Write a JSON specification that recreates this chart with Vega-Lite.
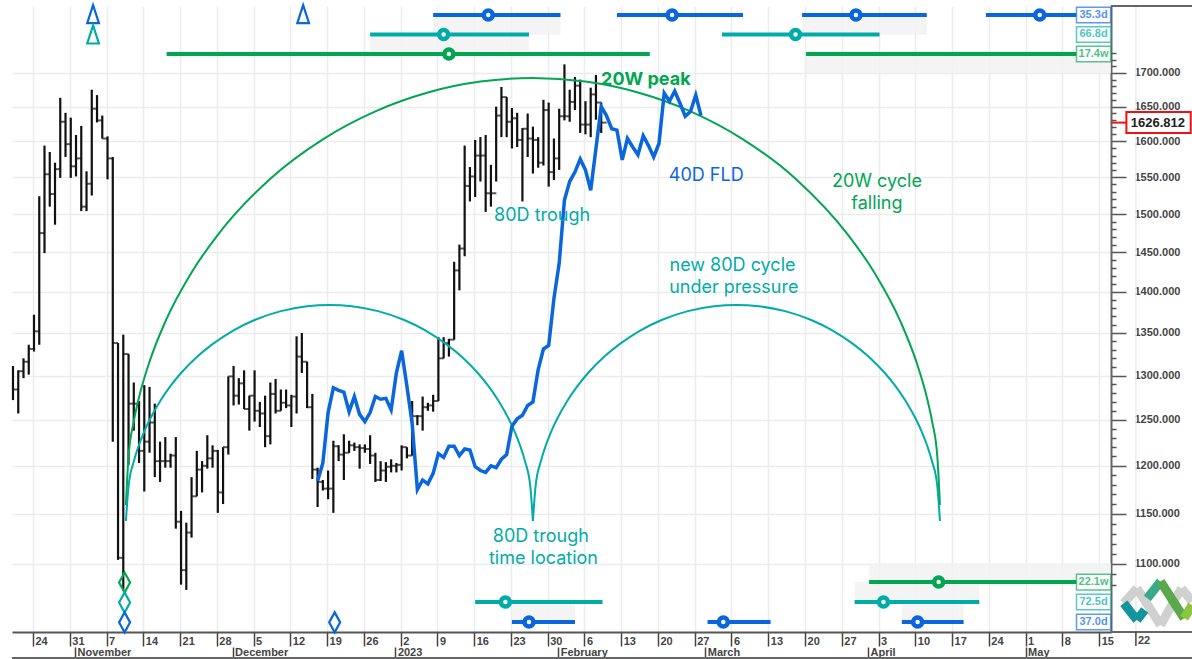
{
"$schema":"https://vega.github.io/schema/vega-lite/v6.json",
"width":1099,"height":626,"autosize":{"type":"none"},
"padding":{"left":12,"top":6,"right":81,"bottom":27},
"background":"white",
"config":{"view":{"stroke":null},"axis":{"title":null}},
"datasets":{
"bars":[
{"d":"2022-10-20","p":1311,"p2":1272,"c":1284},{"d":"2022-10-21","p":1306,"p2":1257,"c":1305},{"d":"2022-10-22","p":1320,"p2":1297,"c":1316},{"d":"2022-10-23","p":1336,"p2":1301,"c":1331},{"d":"2022-10-24","p":1372,"p2":1328,"c":1352},{"d":"2022-10-25","p":1524,"p2":1336,"c":1475},{"d":"2022-10-26","p":1594,"p2":1449,"c":1554},{"d":"2022-10-27","p":1585,"p2":1510,"c":1527},{"d":"2022-10-28","p":1570,"p2":1486,"c":1561},{"d":"2022-10-29","p":1663,"p2":1549,"c":1628},{"d":"2022-10-30","p":1641,"p2":1578,"c":1596},{"d":"2022-10-31","p":1634,"p2":1549,"c":1565},
{"d":"2022-11-01","p":1609,"p2":1551,"c":1576},{"d":"2022-11-02","p":1622,"p2":1504,"c":1510},{"d":"2022-11-03","p":1558,"p2":1504,"c":1541},{"d":"2022-11-04","p":1675,"p2":1525,"c":1647},{"d":"2022-11-05","p":1667,"p2":1627,"c":1630},{"d":"2022-11-06","p":1637,"p2":1604,"c":1604},{"d":"2022-11-07","p":1607,"p2":1547,"c":1576},{"d":"2022-11-08","p":1578,"p2":1226,"c":1338},{"d":"2022-11-09","p":1338,"p2":1104,"c":1106},{"d":"2022-11-10","p":1348,"p2":1075,"c":1325},{"d":"2022-11-11","p":1325,"p2":1201,"c":1268},{"d":"2022-11-12","p":1292,"p2":1238,"c":1268},{"d":"2022-11-13","p":1271,"p2":1203,"c":1216},{"d":"2022-11-14","p":1289,"p2":1173,"c":1226},{"d":"2022-11-15","p":1287,"p2":1214,"c":1247},{"d":"2022-11-16","p":1268,"p2":1188,"c":1205},{"d":"2022-11-17","p":1226,"p2":1183,"c":1205},{"d":"2022-11-18","p":1231,"p2":1198,"c":1205},{"d":"2022-11-19","p":1213,"p2":1198,"c":1211},{"d":"2022-11-20","p":1231,"p2":1135,"c":1142},{"d":"2022-11-21","p":1153,"p2":1080,"c":1094},{"d":"2022-11-22","p":1141,"p2":1075,"c":1131},{"d":"2022-11-23","p":1188,"p2":1126,"c":1168},{"d":"2022-11-24","p":1216,"p2":1168,"c":1196},{"d":"2022-11-25","p":1205,"p2":1172,"c":1200},{"d":"2022-11-26","p":1233,"p2":1197,"c":1208},{"d":"2022-11-27","p":1222,"p2":1198,"c":1216},{"d":"2022-11-28","p":1217,"p2":1151,"c":1172},{"d":"2022-11-29","p":1220,"p2":1160,"c":1220},{"d":"2022-11-30","p":1299,"p2":1212,"c":1299},
{"d":"2022-12-01","p":1311,"p2":1266,"c":1277},{"d":"2022-12-02","p":1297,"p2":1267,"c":1291},{"d":"2022-12-03","p":1306,"p2":1262,"c":1262},{"d":"2022-12-04","p":1277,"p2":1238,"c":1277},{"d":"2022-12-05","p":1306,"p2":1248,"c":1260},{"d":"2022-12-06","p":1270,"p2":1242,"c":1257},{"d":"2022-12-07","p":1277,"p2":1220,"c":1232},{"d":"2022-12-08","p":1292,"p2":1223,"c":1279},{"d":"2022-12-09","p":1296,"p2":1257,"c":1260},{"d":"2022-12-10","p":1284,"p2":1260,"c":1269},{"d":"2022-12-11","p":1284,"p2":1263,"c":1266},{"d":"2022-12-12","p":1278,"p2":1242,"c":1276},{"d":"2022-12-13","p":1346,"p2":1257,"c":1322},{"d":"2022-12-14","p":1350,"p2":1303,"c":1316},{"d":"2022-12-15","p":1316,"p2":1263,"c":1264},{"d":"2022-12-16","p":1279,"p2":1186,"c":1196},{"d":"2022-12-17","p":1198,"p2":1157,"c":1183},{"d":"2022-12-18","p":1185,"p2":1174,"c":1176},{"d":"2022-12-19","p":1195,"p2":1165,"c":1176},{"d":"2022-12-20","p":1227,"p2":1151,"c":1221},{"d":"2022-12-21","p":1222,"p2":1205,"c":1212},{"d":"2022-12-22","p":1234,"p2":1185,"c":1214},{"d":"2022-12-23","p":1227,"p2":1214,"c":1222},{"d":"2022-12-24","p":1225,"p2":1216,"c":1220},{"d":"2022-12-25","p":1223,"p2":1197,"c":1219},{"d":"2022-12-26","p":1223,"p2":1214,"c":1218},{"d":"2022-12-27","p":1233,"p2":1202,"c":1211},{"d":"2022-12-28","p":1214,"p2":1183,"c":1185},{"d":"2022-12-29","p":1205,"p2":1184,"c":1195},{"d":"2022-12-30","p":1204,"p2":1183,"c":1199},{"d":"2022-12-31","p":1207,"p2":1193,"c":1200},
{"d":"2023-01-01","p":1203,"p2":1193,"c":1201},{"d":"2023-01-02","p":1222,"p2":1195,"c":1220},{"d":"2023-01-03","p":1220,"p2":1208,"c":1211},{"d":"2023-01-04","p":1271,"p2":1211,"c":1254},{"d":"2023-01-05","p":1255,"p2":1244,"c":1254},{"d":"2023-01-06","p":1276,"p2":1238,"c":1264},{"d":"2023-01-07","p":1269,"p2":1260,"c":1266},{"d":"2023-01-08","p":1278,"p2":1259,"c":1271},{"d":"2023-01-09","p":1345,"p2":1271,"c":1320},{"d":"2023-01-10","p":1345,"p2":1320,"c":1338},{"d":"2023-01-11","p":1343,"p2":1322,"c":1342},{"d":"2023-01-12","p":1438,"p2":1342,"c":1427},{"d":"2023-01-13","p":1460,"p2":1402,"c":1455},{"d":"2023-01-14","p":1594,"p2":1445,"c":1538},{"d":"2023-01-15","p":1564,"p2":1517,"c":1551},{"d":"2023-01-16","p":1602,"p2":1523,"c":1580},{"d":"2023-01-17","p":1606,"p2":1544,"c":1580},{"d":"2023-01-18","p":1609,"p2":1503,"c":1528},{"d":"2023-01-19","p":1567,"p2":1510,"c":1528},{"d":"2023-01-20","p":1650,"p2":1544,"c":1637},{"d":"2023-01-21","p":1679,"p2":1606,"c":1664},{"d":"2023-01-22","p":1664,"p2":1606,"c":1628},{"d":"2023-01-23","p":1648,"p2":1590,"c":1633},{"d":"2023-01-24","p":1641,"p2":1592,"c":1602},{"d":"2023-01-25","p":1619,"p2":1517,"c":1618},{"d":"2023-01-26","p":1640,"p2":1578,"c":1604},{"d":"2023-01-27","p":1621,"p2":1555,"c":1602},{"d":"2023-01-28","p":1606,"p2":1563,"c":1570},{"d":"2023-01-29","p":1660,"p2":1566,"c":1645},{"d":"2023-01-30","p":1656,"p2":1537,"c":1557},{"d":"2023-01-31","p":1604,"p2":1546,"c":1576},
{"d":"2023-02-01","p":1647,"p2":1560,"c":1636},{"d":"2023-02-02","p":1713,"p2":1630,"c":1636},{"d":"2023-02-03","p":1675,"p2":1628,"c":1657},{"d":"2023-02-04","p":1694,"p2":1645,"c":1681},{"d":"2023-02-05","p":1690,"p2":1612,"c":1624},{"d":"2023-02-06","p":1658,"p2":1610,"c":1624},{"d":"2023-02-07","p":1678,"p2":1606,"c":1668},{"d":"2023-02-08","p":1697,"p2":1631,"c":1656},{"d":"2023-02-09","p":1656,"p2":1612,"c":1626.812}
],
"fld":[
{"d":"2022-12-17","p":1184},{"d":"2022-12-18","p":1203},{"d":"2022-12-19","p":1258},{"d":"2022-12-20","p":1286},{"d":"2022-12-21","p":1283},{"d":"2022-12-22","p":1281},{"d":"2022-12-23","p":1259},{"d":"2022-12-24","p":1276},{"d":"2022-12-25","p":1256},{"d":"2022-12-26","p":1248},{"d":"2022-12-27","p":1258},{"d":"2022-12-28","p":1276},{"d":"2022-12-29","p":1273},{"d":"2022-12-30","p":1274},{"d":"2022-12-31","p":1261},{"d":"2023-01-01","p":1303},{"d":"2023-01-02","p":1329},{"d":"2023-01-03","p":1288},{"d":"2023-01-04","p":1246},{"d":"2023-01-05","p":1175},{"d":"2023-01-06","p":1185},{"d":"2023-01-07","p":1181},{"d":"2023-01-08","p":1192},{"d":"2023-01-09","p":1213},{"d":"2023-01-10","p":1209},{"d":"2023-01-11","p":1221},{"d":"2023-01-12","p":1221},{"d":"2023-01-13","p":1211},{"d":"2023-01-14","p":1218},{"d":"2023-01-15","p":1217},{"d":"2023-01-16","p":1199},{"d":"2023-01-17","p":1195},{"d":"2023-01-18","p":1193},{"d":"2023-01-19","p":1200},{"d":"2023-01-20","p":1198},{"d":"2023-01-21","p":1207},{"d":"2023-01-22","p":1212},{"d":"2023-01-23","p":1243},{"d":"2023-01-24","p":1251},{"d":"2023-01-25","p":1255},{"d":"2023-01-26","p":1266},{"d":"2023-01-27","p":1270},{"d":"2023-01-28","p":1307},{"d":"2023-01-29","p":1331},{"d":"2023-01-30","p":1335},{"d":"2023-01-31","p":1392},{"d":"2023-02-01","p":1436},{"d":"2023-02-02","p":1519},{"d":"2023-02-03","p":1544},{"d":"2023-02-04","p":1557},{"d":"2023-02-05","p":1575},{"d":"2023-02-06","p":1560},{"d":"2023-02-07","p":1532},{"d":"2023-02-08","p":1590},{"d":"2023-02-09","p":1650},{"d":"2023-02-10","p":1637},{"d":"2023-02-11","p":1618},{"d":"2023-02-12","p":1616},{"d":"2023-02-13","p":1574},{"d":"2023-02-14","p":1604},{"d":"2023-02-15","p":1592},{"d":"2023-02-16","p":1581},{"d":"2023-02-17","p":1608},{"d":"2023-02-18","p":1594},{"d":"2023-02-19","p":1578},{"d":"2023-02-20","p":1597},{"d":"2023-02-21","p":1670},{"d":"2023-02-22","p":1658},{"d":"2023-02-23","p":1673},{"d":"2023-02-24","p":1655},{"d":"2023-02-25","p":1636},{"d":"2023-02-26","p":1643},{"d":"2023-02-27","p":1667},{"d":"2023-02-28","p":1637}
],
"arcs":[
{"a":"20W","k":"20W","d":"2022-11-10T12:00:00Z","p":1159},{"a":"20W","k":"20W","d":"2022-11-11","p":1209.9},{"a":"20W","k":"20W","d":"2022-11-12","p":1248.3},{"a":"20W","k":"20W","d":"2022-11-13","p":1275.2},{"a":"20W","k":"20W","d":"2022-11-15","p":1316.1},{"a":"20W","k":"20W","d":"2022-11-18","p":1363.6},{"a":"20W","k":"20W","d":"2022-11-23","p":1424.4},{"a":"20W","k":"20W","d":"2022-11-28","p":1472.7},{"a":"20W","k":"20W","d":"2022-12-08","p":1547.9},{"a":"20W","k":"20W","d":"2022-12-18","p":1602.9},{"a":"20W","k":"20W","d":"2022-12-28","p":1643.2},{"a":"20W","k":"20W","d":"2023-01-07","p":1670.9},{"a":"20W","k":"20W","d":"2023-01-17","p":1687.1},{"a":"20W","k":"20W","d":"2023-01-27","p":1692.5},{"a":"20W","k":"20W","d":"2023-02-06","p":1687.1},{"a":"20W","k":"20W","d":"2023-02-16","p":1670.9},{"a":"20W","k":"20W","d":"2023-02-26","p":1643.2},{"a":"20W","k":"20W","d":"2023-03-08","p":1602.9},{"a":"20W","k":"20W","d":"2023-03-18","p":1547.9},{"a":"20W","k":"20W","d":"2023-03-28","p":1472.7},{"a":"20W","k":"20W","d":"2023-04-02","p":1424.4},{"a":"20W","k":"20W","d":"2023-04-07","p":1363.6},{"a":"20W","k":"20W","d":"2023-04-10","p":1316.1},{"a":"20W","k":"20W","d":"2023-04-12","p":1275.2},{"a":"20W","k":"20W","d":"2023-04-13","p":1248.3},{"a":"20W","k":"20W","d":"2023-04-14","p":1209.9},{"a":"20W","k":"20W","d":"2023-04-14T12:00:00Z","p":1159},
{"a":"80L","k":"80D","d":"2022-11-10T12:00:00Z","p":1142.7},{"a":"80L","k":"80D","d":"2022-11-11","p":1178.4},{"a":"80L","k":"80D","d":"2022-11-12","p":1204.7},{"a":"80L","k":"80D","d":"2022-11-13","p":1222.6},{"a":"80L","k":"80D","d":"2022-11-14","p":1237.3},{"a":"80L","k":"80D","d":"2022-11-15","p":1249.7},{"a":"80L","k":"80D","d":"2022-11-17","p":1270.7},{"a":"80L","k":"80D","d":"2022-11-19","p":1288.1},{"a":"80L","k":"80D","d":"2022-11-21","p":1302.9},{"a":"80L","k":"80D","d":"2022-11-24","p":1321.5},{"a":"80L","k":"80D","d":"2022-11-27","p":1336.7},{"a":"80L","k":"80D","d":"2022-12-01","p":1353.2},{"a":"80L","k":"80D","d":"2022-12-05","p":1365.6},{"a":"80L","k":"80D","d":"2022-12-10","p":1376.4},{"a":"80L","k":"80D","d":"2022-12-15","p":1382.4},{"a":"80L","k":"80D","d":"2022-12-19T06:00:00Z","p":1384},{"a":"80L","k":"80D","d":"2022-12-23T12:00:00Z","p":1382.4},{"a":"80L","k":"80D","d":"2022-12-28T12:00:00Z","p":1376.4},{"a":"80L","k":"80D","d":"2023-01-02T12:00:00Z","p":1365.6},{"a":"80L","k":"80D","d":"2023-01-06T12:00:00Z","p":1353.2},{"a":"80L","k":"80D","d":"2023-01-10T12:00:00Z","p":1336.7},{"a":"80L","k":"80D","d":"2023-01-13T12:00:00Z","p":1321.5},{"a":"80L","k":"80D","d":"2023-01-16T12:00:00Z","p":1302.9},{"a":"80L","k":"80D","d":"2023-01-18T12:00:00Z","p":1288.1},{"a":"80L","k":"80D","d":"2023-01-20T12:00:00Z","p":1270.7},{"a":"80L","k":"80D","d":"2023-01-22T12:00:00Z","p":1249.7},{"a":"80L","k":"80D","d":"2023-01-23T12:00:00Z","p":1237.3},{"a":"80L","k":"80D","d":"2023-01-24T12:00:00Z","p":1222.6},{"a":"80L","k":"80D","d":"2023-01-25T12:00:00Z","p":1204.7},{"a":"80L","k":"80D","d":"2023-01-26T12:00:00Z","p":1178.4},{"a":"80L","k":"80D","d":"2023-01-27","p":1142.7},
{"a":"80R","k":"80D","d":"2023-01-27","p":1142.7},{"a":"80R","k":"80D","d":"2023-01-27T12:00:00Z","p":1178.4},{"a":"80R","k":"80D","d":"2023-01-28T12:00:00Z","p":1204.7},{"a":"80R","k":"80D","d":"2023-01-29T12:00:00Z","p":1222.6},{"a":"80R","k":"80D","d":"2023-01-30T12:00:00Z","p":1237.3},{"a":"80R","k":"80D","d":"2023-01-31T12:00:00Z","p":1249.7},{"a":"80R","k":"80D","d":"2023-02-02T12:00:00Z","p":1270.7},{"a":"80R","k":"80D","d":"2023-02-04T12:00:00Z","p":1288.1},{"a":"80R","k":"80D","d":"2023-02-06T12:00:00Z","p":1302.9},{"a":"80R","k":"80D","d":"2023-02-09T12:00:00Z","p":1321.5},{"a":"80R","k":"80D","d":"2023-02-12T12:00:00Z","p":1336.7},{"a":"80R","k":"80D","d":"2023-02-16T12:00:00Z","p":1353.2},{"a":"80R","k":"80D","d":"2023-02-20T12:00:00Z","p":1365.6},{"a":"80R","k":"80D","d":"2023-02-25T12:00:00Z","p":1376.4},{"a":"80R","k":"80D","d":"2023-03-02T12:00:00Z","p":1382.4},{"a":"80R","k":"80D","d":"2023-03-06T18:00:00Z","p":1384},{"a":"80R","k":"80D","d":"2023-03-11","p":1382.4},{"a":"80R","k":"80D","d":"2023-03-16","p":1376.4},{"a":"80R","k":"80D","d":"2023-03-21","p":1365.6},{"a":"80R","k":"80D","d":"2023-03-25","p":1353.2},{"a":"80R","k":"80D","d":"2023-03-29","p":1336.7},{"a":"80R","k":"80D","d":"2023-04-01","p":1321.5},{"a":"80R","k":"80D","d":"2023-04-04","p":1302.9},{"a":"80R","k":"80D","d":"2023-04-06","p":1288.1},{"a":"80R","k":"80D","d":"2023-04-08","p":1270.7},{"a":"80R","k":"80D","d":"2023-04-10","p":1249.7},{"a":"80R","k":"80D","d":"2023-04-11","p":1237.3},{"a":"80R","k":"80D","d":"2023-04-12","p":1222.6},{"a":"80R","k":"80D","d":"2023-04-13","p":1204.7},{"a":"80R","k":"80D","d":"2023-04-14","p":1178.4},{"a":"80R","k":"80D","d":"2023-04-14T12:00:00Z","p":1142.7}
],
"bands":[
{"d":"2023-01-08","d2":"2023-02-01T06:00:00Z","p":1789.7,"p2":1759},
{"d":"2023-03-19T06:00:00Z","d2":"2023-04-12","p":1789.7,"p2":1759},
{"d":"2022-12-27","d2":"2023-01-26T06:00:00Z","p":1759,"p2":1732},
{"d":"2023-03-20","d2":"2023-05-17T01:00:00Z","p":1728.9,"p2":1700},
{"d":"2023-04-01","d2":"2023-05-17T01:00:00Z","p":1100.6,"p2":1082.5},
{"d":"2023-03-29T06:00:00Z","d2":"2023-04-22","p":1082.5,"p2":1063.5},
{"d":"2023-04-07T06:00:00Z","d2":"2023-04-19","p":1063.5,"p2":1044.8},
{"d":"2023-01-23","d2":"2023-02-04","p":1063.5,"p2":1044.8}
],
"segs":[
{"k":"40D","d":"2023-01-08","d2":"2023-02-01T06:00:00Z","m":"2023-01-18T12:00:00Z","p":1789.7},
{"k":"40D","d":"2023-02-12","d2":"2023-03-08","m":"2023-02-22T12:00:00Z","p":1789.7},
{"k":"40D","d":"2023-03-19T06:00:00Z","d2":"2023-04-12","m":"2023-03-29T12:00:00Z","p":1789.7},
{"k":"40D","d":"2023-04-23T06:00:00Z","d2":"2023-05-10T12:00:00Z","m":"2023-05-03T12:00:00Z","p":1789.7},
{"k":"80D","d":"2022-12-27","d2":"2023-01-26T06:00:00Z","m":"2023-01-10","p":1759},
{"k":"80D","d":"2023-03-04","d2":"2023-04-03","m":"2023-03-18","p":1759},
{"k":"20W","d":"2022-11-18T06:00:00Z","d2":"2023-02-18T06:00:00Z","m":"2023-01-11","p":1728.9},
{"k":"20W","d":"2023-03-20","d2":"2023-05-10T12:00:00Z","p":1728.9},
{"k":"20W","d":"2023-04-01","d2":"2023-05-10T12:00:00Z","m":"2023-04-14T06:00:00Z","p":1082.5},
{"k":"80D","d":"2023-03-29T06:00:00Z","d2":"2023-04-22","m":"2023-04-03T18:00:00Z","p":1063.5},
{"k":"40D","d":"2023-04-07T06:00:00Z","d2":"2023-04-19","m":"2023-04-10T06:00:00Z","p":1044.8},
{"k":"80D","d":"2023-01-16","d2":"2023-02-09T06:00:00Z","m":"2023-01-21T18:00:00Z","p":1063.5},
{"k":"40D","d":"2023-01-23","d2":"2023-02-04","m":"2023-01-26T06:00:00Z","p":1044.8},
{"k":"40D","d":"2023-03-01T06:00:00Z","d2":"2023-03-13T06:00:00Z","m":"2023-03-04T06:00:00Z","p":1044.8}
],
"tris":[
{"k":"40D","d":"2022-11-04T06:00:00Z","p":1791},
{"k":"80D","d":"2022-11-04T06:00:00Z","p":1759},
{"k":"40D","d":"2022-12-14T06:00:00Z","p":1791}
],
"dias":[
{"k":"20W","d":"2022-11-10T06:00:00Z","p":1082},
{"k":"80D","d":"2022-11-10T06:00:00Z","p":1063},
{"k":"40D","d":"2022-11-10T06:00:00Z","p":1044.5},
{"k":"40D","d":"2022-12-20T06:00:00Z","p":1044.5}
],
"boxes":[
{"k":"40D","t":"35.3d","d":"2023-05-10T12:00:00Z","d2":"2023-05-17","m":"2023-05-13T18:00:00Z","p":1802,"p2":1777.5,"c":1789.7},
{"k":"80D","t":"66.8d","d":"2023-05-10T12:00:00Z","d2":"2023-05-17","m":"2023-05-13T18:00:00Z","p":1771,"p2":1747,"c":1759},
{"k":"20W","t":"17.4w","d":"2023-05-10T12:00:00Z","d2":"2023-05-17","m":"2023-05-13T18:00:00Z","p":1740.7,"p2":1717.1,"c":1728.9},
{"k":"20W","t":"22.1w","d":"2023-05-10T12:00:00Z","d2":"2023-05-17","m":"2023-05-13T18:00:00Z","p":1090,"p2":1075,"c":1082.5},
{"k":"80D","t":"72.5d","d":"2023-05-10T12:00:00Z","d2":"2023-05-17","m":"2023-05-13T18:00:00Z","p":1070.8,"p2":1056.3,"c":1063.5},
{"k":"40D","t":"37.0d","d":"2023-05-10T12:00:00Z","d2":"2023-05-17","m":"2023-05-13T18:00:00Z","p":1052,"p2":1037.7,"c":1044.8}
],
"notes":[
{"k":"40D","t":"40D FLD","d":"2023-03-01","p":1551},
{"k":"20W","t":"20W cycle","d":"2023-04-02T12:00:00Z","p":1543},
{"k":"20W","t":"falling","d":"2023-04-02T12:00:00Z","p":1513},
{"k":"80D","t":"80D trough","d":"2023-01-28T18:00:00Z","p":1497},
{"k":"80D","t":"new 80D cycle","d":"2023-03-06","p":1432},
{"k":"80D","t":"under pressure","d":"2023-03-06T06:00:00Z","p":1404.5},
{"k":"80D","t":"80D trough","d":"2023-01-28T12:00:00Z","p":1126.5},
{"k":"80D","t":"time location","d":"2023-01-29","p":1105}
],
"frame":[
{"d":"2023-05-17T01:00:00Z","d2":"2023-06-01T12:00:00Z","p":1035.6},
{"d":"2022-10-19T19:30:00Z","d2":"2023-06-01T12:00:00Z","p":1012},
{"d":"2023-05-17T01:00:00Z","d2":"2023-06-01T12:00:00Z","p":1804}
],
"lastweek":[{"d":"2023-05-22","p":1035.6,"p2":1022.9,"top":1804,"q":1027.5,"t":"22"}],
"logo":[
{"k":"logo gray","d":"2023-05-19T12:00:00Z","d2":"2023-05-22","p":1062.3,"p2":1076.5},
{"k":"logo gray","d":"2023-05-22","d2":"2023-05-26T12:00:00Z","p":1076.5,"p2":1042.1},
{"k":"logo gray","d":"2023-05-26T12:00:00Z","d2":"2023-05-30T12:00:00Z","p":1042.1,"p2":1076.5},
{"k":"logo gray","d":"2023-05-30T12:00:00Z","d2":"2023-06-01T12:00:00Z","p":1076.5,"p2":1063.9},
{"k":"logo teal","d":"2023-05-19T12:00:00Z","d2":"2023-05-22","p":1062.3,"p2":1046.7},
{"k":"logo teal","d":"2023-05-22","d2":"2023-05-23T12:00:00Z","p":1046.7,"p2":1056},
{"k":"logo green-teal","d":"2023-05-24","d2":"2023-05-26T12:00:00Z","p":1067.1,"p2":1083},
{"k":"logo green","d":"2023-05-26T12:00:00Z","d2":"2023-05-31","p":1083,"p2":1048.3},
{"k":"logo lime","d":"2023-05-31","d2":"2023-06-01T12:00:00Z","p":1048.3,"p2":1060.6}
],
"tag":[{"d":"2023-05-20","d2":"2023-06-01T06:00:00Z","p":1642,"p2":1612}],
"last":[{"d":"2023-05-17T01:00:00Z","d2":"2023-05-20","m":"2023-05-26","p":1626.812,"t":"1626.812"}],
"peak":[{"d":"2023-02-17T12:00:00Z","p":1690,"t":"20W peak"}]
},
"encoding":{
"x":{"field":"d","type":"temporal","axis":null,"scale":{"type":"utc","domain":["2022-10-19T19:28:00Z","2023-05-17T01:40:00Z"],"nice":false}},
"y":{"field":"p","type":"quantitative","axis":null,"scale":{"type":"log","domain":[1035.6,1804],"nice":false,"zero":false}}
},
"resolve":{"axis":{"x":"independent","y":"independent"}},
"layer":[
{"data":{"name":"lastweek"},"mark":{"type":"rule","color":"#ececec","strokeWidth":1.5,"xOffset":-1},"encoding":{"y":{"field":"top","type":"quantitative","axis":null,"scale":{"type":"log","domain":[1035.6,1804],"nice":false,"zero":false}},"y2":{"field":"p"}}},
{"data":{"name":"bands","format":{"parse":{"d":"date","d2":"date"}}},"mark":{"type":"rect","fill":"#f2f2f2","fillOpacity":0.85},"encoding":{"x2":{"field":"d2"},"y2":{"field":"p2"}}},
{"data":{"name":"bars"},"mark":{"type":"rule","color":"#111111","strokeWidth":2.2},
 "encoding":{
  "x":{"field":"d","type":"temporal","scale":{"type":"utc","domain":["2022-10-19T19:28:00Z","2023-05-17T01:40:00Z"],"nice":false},
   "axis":{"orient":"bottom","values":["2022-10-24","2022-10-31","2022-11-07","2022-11-14","2022-11-21","2022-11-28","2022-12-05","2022-12-12","2022-12-19","2022-12-26","2023-01-02","2023-01-09","2023-01-16","2023-01-23","2023-01-30","2023-02-06","2023-02-13","2023-02-20","2023-02-27","2023-03-06","2023-03-13","2023-03-20","2023-03-27","2023-04-03","2023-04-10","2023-04-17","2023-04-24","2023-05-01","2023-05-08","2023-05-15"],
    "labelExpr":"utcFormat(datum.value,'%-d')","grid":true,"gridColor":"#ececec","gridWidth":1.5,"tickOffset":-1,"tickSize":14,"tickColor":"#444444","tickWidth":1.5,"domainColor":"#555555","domainWidth":2,"labelAlign":"left","labelBaseline":"middle","labelOffset":2,"labelPadding":-5,"labelFont":"Liberation Sans","labelFontWeight":"bold","labelFontSize":11,"labelColor":"#444444","labelOverlap":false,"labelBound":false,"labelFlush":false,"title":null}},
  "y":{"field":"p","type":"quantitative","scale":{"type":"log","domain":[1035.6,1804],"nice":false,"zero":false},
   "axis":{"orient":"right","values":[1100,1150,1200,1250,1300,1350,1400,1450,1500,1550,1600,1650,1700],"format":".3f","grid":true,"gridColor":"#ececec","gridWidth":1.5,"tickSize":15,"tickColor":"#555555","tickWidth":1.5,"domainColor":"#666666","domainWidth":2,"labelPadding":8,"labelFont":"Liberation Sans","labelFontWeight":"bold","labelFontSize":11,"labelColor":"#444444","labelOverlap":false,"labelBound":false,"labelFlush":false,"title":null}},
  "y2":{"field":"p2"}}},
{"data":{"name":"bars"},"mark":{"type":"point","opacity":0},
 "encoding":{
  "x":{"field":"d","type":"temporal","scale":{"type":"utc","domain":["2022-10-19T19:28:00Z","2023-05-17T01:40:00Z"],"nice":false},
   "axis":{"orient":"bottom","offset":26,"values":["2022-11-01","2022-12-01","2023-01-01","2023-02-01","2023-03-01","2023-04-01","2023-05-01"],
    "labelExpr":"utcFormat(datum.value,'%m')=='01'?utcFormat(datum.value,'%Y'):utcFormat(datum.value,'%B')","grid":false,"domain":false,"tickOffset":-1,"tickSize":-11,"tickColor":"#444444","tickWidth":1.5,"labelAlign":"left","labelBaseline":"middle","labelOffset":2,"labelPadding":5,"labelFont":"Liberation Sans","labelFontWeight":"bold","labelFontSize":11,"labelColor":"#444444","labelOverlap":false,"labelBound":false,"labelFlush":false,"title":null}},
  "y":{"field":"p","type":"quantitative","scale":{"type":"log","domain":[1035.6,1804],"nice":false,"zero":false},
   "axis":{"orient":"right","values":[1080,1090,1110,1120,1130,1140,1160,1170,1180,1190,1210,1220,1230,1240,1260,1270,1280,1290,1310,1320,1330,1340,1360,1370,1380,1390,1410,1420,1430,1440,1460,1470,1480,1490,1510,1520,1530,1540,1560,1570,1580,1590,1610,1620,1630,1640,1660,1670,1680,1690,1710,1720,1730],"labels":false,"domain":false,"grid":false,"tickSize":5,"tickColor":"#555555","tickWidth":1.5,"title":null}}}},
{"data":{"name":"bars"},"mark":{"type":"tick","orient":"horizontal","color":"#111111","size":5.5,"thickness":2,"xOffset":2.7},
 "encoding":{"y":{"field":"c","type":"quantitative","axis":null,"scale":{"type":"log","domain":[1035.6,1804],"nice":false,"zero":false}}}},
{"data":{"name":"arcs"},"mark":{"type":"line","strokeWidth":2,"interpolate":"monotone"},
 "encoding":{"detail":{"field":"a"},"color":{"field":"k","type":"nominal","legend":null,"scale":{"domain":["40D","80D","20W","logo gray","logo teal","logo green-teal","logo green","logo lime"],"range":["#0a66dc","#00aca8","#00a651","#d0d0d0","#14949c","#3aa98a","#5aa84a","#8cc63f"]}}}},
{"data":{"name":"fld"},"mark":{"type":"line","strokeWidth":3.5,"color":"#0a66dc"},"encoding":{}},
{"data":{"name":"segs","format":{"parse":{"d":"date","d2":"date"}}},"mark":{"type":"rule","strokeWidth":4},"encoding":{"x2":{"field":"d2"},"color":{"field":"k","type":"nominal","legend":null}}},
{"data":{"name":"segs"},"transform":[{"filter":"isValid(datum.m)"}],"mark":{"type":"point","filled":true,"fill":"white","size":80,"strokeWidth":4.5,"opacity":1},
 "encoding":{"x":{"field":"m","type":"temporal","axis":null,"scale":{"type":"utc","domain":["2022-10-19T19:28:00Z","2023-05-17T01:40:00Z"],"nice":false}},"stroke":{"field":"k","type":"nominal","legend":null,"scale":{"domain":["40D","80D","20W"],"range":["#0a66dc","#00aca8","#00a651"]}}}},
{"data":{"name":"tris"},"mark":{"type":"point","shape":"M0,-1L0.65,1L-0.65,1Z","size":324,"strokeWidth":2.2,"opacity":1,"filled":false},"encoding":{"stroke":{"field":"k","type":"nominal","legend":null}}},
{"data":{"name":"dias"},"mark":{"type":"point","shape":"M0,-1L0.55,0L0,1L-0.55,0Z","size":400,"strokeWidth":2.2,"opacity":1,"filled":false},"encoding":{"stroke":{"field":"k","type":"nominal","legend":null}}},
{"data":{"name":"boxes","format":{"parse":{"d":"date","d2":"date"}}},"mark":{"type":"rect","fill":"white","strokeWidth":1.5,"strokeOpacity":0.65},"encoding":{"x2":{"field":"d2"},"y2":{"field":"p2"},"stroke":{"field":"k","type":"nominal","legend":null}}},
{"data":{"name":"boxes"},"mark":{"type":"text","font":"Liberation Sans","fontWeight":"bold","fontSize":11,"opacity":0.7},"encoding":{"x":{"field":"m","type":"temporal","axis":null,"scale":{"type":"utc","domain":["2022-10-19T19:28:00Z","2023-05-17T01:40:00Z"],"nice":false}},"y":{"field":"c","type":"quantitative","axis":null,"scale":{"type":"log","domain":[1035.6,1804],"nice":false,"zero":false}},"text":{"field":"t"},"color":{"field":"k","type":"nominal","legend":null}}},
{"data":{"name":"notes"},"mark":{"type":"text","font":"Inter","fontSize":18},"encoding":{"text":{"field":"t"},"color":{"field":"k","type":"nominal","legend":null}}},
{"data":{"name":"peak"},"mark":{"type":"text","font":"Inter","fontSize":18,"fontWeight":"bold","color":"#00a651"},"encoding":{"text":{"field":"t"}}},
{"data":{"name":"frame","format":{"parse":{"d":"date","d2":"date"}}},"mark":{"type":"rule","color":"#666666","strokeWidth":2},"encoding":{"x2":{"field":"d2"}}},
{"data":{"name":"lastweek"},"mark":{"type":"rule","color":"#444444","strokeWidth":1.5,"xOffset":-1},"encoding":{"y2":{"field":"p2"}}},
{"data":{"name":"lastweek"},"mark":{"type":"text","font":"Liberation Sans","fontWeight":"bold","fontSize":11,"color":"#444444","align":"left","dx":1},"encoding":{"y":{"field":"q","type":"quantitative","axis":null,"scale":{"type":"log","domain":[1035.6,1804],"nice":false,"zero":false}},"text":{"field":"t"}}},
{"data":{"name":"logo","format":{"parse":{"d":"date","d2":"date"}}},"mark":{"type":"rule","strokeWidth":9},"encoding":{"x2":{"field":"d2"},"y2":{"field":"p2"},"color":{"field":"k","type":"nominal","legend":null}}},
{"data":{"name":"last","format":{"parse":{"d":"date","d2":"date"}}},"mark":{"type":"rule","color":"#ee1111","strokeWidth":2},"encoding":{"x2":{"field":"d2"}}},
{"data":{"name":"tag","format":{"parse":{"d":"date","d2":"date"}}},"mark":{"type":"rect","fill":"white","stroke":"#ee1111","strokeWidth":2},"encoding":{"x2":{"field":"d2"},"y2":{"field":"p2"}}},
{"data":{"name":"last"},"mark":{"type":"text","font":"Liberation Sans","fontWeight":"bold","fontSize":13,"color":"#222222"},"encoding":{"x":{"field":"m","type":"temporal","axis":null,"scale":{"type":"utc","domain":["2022-10-19T19:28:00Z","2023-05-17T01:40:00Z"],"nice":false}},"text":{"field":"t"}}}
]
}
